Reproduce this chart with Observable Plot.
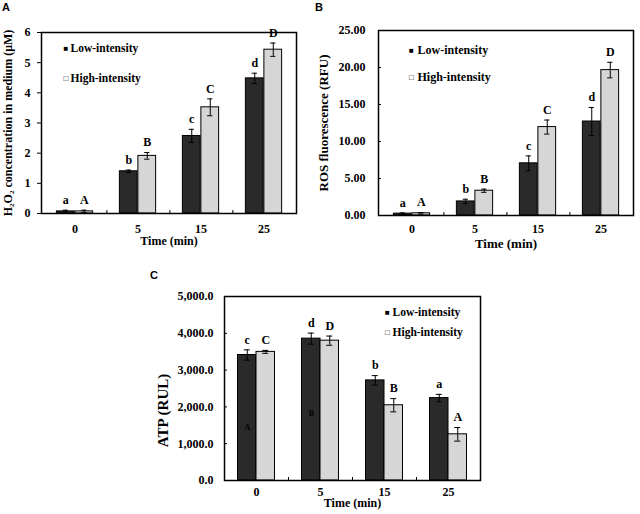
<!DOCTYPE html>
<html><head><meta charset="utf-8">
<script src="https://cdn.jsdelivr.net/npm/d3@7"></script>
<script src="https://cdn.jsdelivr.net/npm/@observablehq/plot@0.6"></script>
<style>
body{margin:0;background:#fff;}
#fig{position:relative;width:640px;height:514px;overflow:hidden;background:#fff;}
.panel{position:absolute;}
.panel text{font-family:"Liberation Serif","Times New Roman",serif;}
.plab{position:absolute;font-family:"Liberation Sans",Arial,sans-serif;font-weight:bold;font-size:11px;line-height:11px;}
</style></head><body>
<div id="fig"></div>
<script>
// ---- data ----
const times = ["0", "5", "15", "25"];
const seriesNames = ["Low-intensity", "High-intensity"];

// Panel A: H2O2 concentration (µM)
const h2o2Low = [0.07, 1.40, 2.57, 4.48];
const h2o2LowErr = [0.04, 0.04, 0.22, 0.17];
const h2o2High = [0.07, 1.91, 3.52, 5.43];
const h2o2HighErr = [0.04, 0.11, 0.28, 0.22];
const h2o2LowLetters = ["a", "b", "c", "d"];
const h2o2HighLetters = ["A", "B", "C", "D"];
const h2o2Ticks = [0, 1, 2, 3, 4, 5, 6];

// Panel B: ROS fluorescence (RFU)
const rosLow = [0.25, 1.90, 7.05, 12.70];
const rosLowErr = [0.10, 0.30, 1.00, 1.90];
const rosHigh = [0.30, 3.35, 11.95, 19.65];
const rosHighErr = [0.10, 0.22, 0.95, 1.05];
const rosLowLetters = ["a", "b", "c", "d"];
const rosHighLetters = ["A", "B", "C", "D"];
const rosTicks = [0, 5, 10, 15, 20, 25];

// Panel C: ATP (RUL)
const atpLow = [3410, 3855, 2720, 2240];
const atpLowErr = [140, 150, 130, 100];
const atpHigh = [3495, 3800, 2045, 1255];
const atpHighErr = [40, 125, 180, 185];
const atpLowLetters = ["c", "d", "b", "a"];
const atpHighLetters = ["C", "D", "B", "A"];
const atpTicks = [0, 1000, 2000, 3000, 4000, 5000];
// stray letters printed inside the dark bars of the original figure
const atpStrayTime = ["0", "5"];
const atpStrayValue = [1440, 1820];
const atpStrayText = ["A", "B"];

const dark = "#2a2a2a", light = "#d6d6d6";
const serif = "Liberation Serif";

function panel(c) {
  const rows = [];
  times.forEach((t, i) => {
    rows.push({t, s: "Low", v: c.low[i], e: c.lowErr[i], L: c.lowLetters[i]});
    rows.push({t, s: "High", v: c.high[i], e: c.highErr[i], L: c.highLetters[i]});
  });
  const m = c.m;
  const pw = c.W - m.left - m.right, ph = c.H - m.top - m.bottom;
  const bw = pw / times.length, barW = 18.5;
  const marks = [];
  for (const [s, off, fill] of [["Low", -1, dark], ["High", 1, light]]) {
    const R = rows.filter(d => d.s === s);
    marks.push(Plot.barY(R, {x: "t", y: "v", fill, stroke: "#000", strokeWidth: 1,
      insetLeft: off < 0 ? bw / 2 - barW : bw / 2, insetRight: off < 0 ? bw / 2 : bw / 2 - barW}));
  }
  for (const [s, off] of [["Low", -1], ["High", 1]]) {
    const R = rows.filter(d => d.s === s);
    const dx = off * barW / 2;
    marks.push(Plot.ruleX(R, {x: "t", y1: d => d.v - d.e, y2: d => d.v + d.e, dx, stroke: "#000", strokeWidth: 1}));
    marks.push(Plot.tickY(R, {x: "t", y: d => d.v + d.e, dx, insetLeft: bw / 2 - 3, insetRight: bw / 2 - 3, stroke: "#000", strokeWidth: 1}));
    marks.push(Plot.tickY(R, {x: "t", y: d => Math.max(0, d.v - d.e), dx, insetLeft: bw / 2 - 3, insetRight: bw / 2 - 3, stroke: "#000", strokeWidth: 1}));
    marks.push(Plot.text(R, {x: "t", y: d => d.v + d.e, text: "L", dx, dy: -10, fontSize: 12, fontWeight: "bold", fontFamily: serif, fill: "#000"}));
  }
  if (c.extra) marks.push(...c.extra);
  // axes
  marks.push(Plot.axisY({ticks: c.ticks, tickFormat: c.fmt, tickSize: c.yTickOut ? 4 : 0,
    tickPadding: c.yTickPad, label: null, fontSize: 12, fontFamily: serif, fontWeight: "bold"}));
  if (!c.yTickOut) marks.push(Plot.ruleY(c.ticks, {y: d => d, insetRight: pw - 3, stroke: "#000"}));
  marks.push(Plot.axisX({tickSize: 0, tickPadding: c.xTickPad, label: null, fontSize: 12, fontFamily: serif, fontWeight: "bold"}));
  marks.push(Plot.ruleX(times.slice(0, -1), {x: d => d, dx: bw / 2, insetTop: ph - 3, stroke: "#000"}));
  marks.push(Plot.frame({stroke: "#000", strokeWidth: 1.5}));
  // titles
  marks.push(Plot.text([c.yTitle], {text: d => d, frameAnchor: "left", rotate: -90, dx: c.yTitleDx, dy: c.yTitleDy || 0,
    textAnchor: "middle", lineAnchor: "middle", fontSize: c.yTitleSize, fontWeight: "bold", fontFamily: serif, fill: "#000"}));
  marks.push(Plot.text(["Time (min)"], {text: d => d, frameAnchor: "bottom", dy: c.xTitleDy,
    textAnchor: "middle", lineAnchor: "middle", fontSize: c.xTitleSize, fontWeight: "bold", fontFamily: serif, fill: "#000"}));
  // legend
  const glyphs = ["\u25A0", "\u25A1"];
  seriesNames.forEach((name, i) => {
    marks.push(Plot.text([glyphs[i]], {text: d => d, frameAnchor: "top-left", dx: c.lg.sq, dy: c.lg.y[i],
      textAnchor: "middle", lineAnchor: "middle", fontSize: 8, fill: "#000", fontFamily: "DejaVu Sans"}));
    marks.push(Plot.text([name], {text: d => d, frameAnchor: "top-left", dx: c.lg.tx, dy: c.lg.y[i],
      textAnchor: "start", lineAnchor: "middle", fontSize: c.lg.size, fontWeight: "bold", fontFamily: serif, fill: "#000"}));
  });
  const el = Plot.plot({
    width: c.W, height: c.H,
    marginTop: m.top, marginRight: m.right, marginBottom: m.bottom, marginLeft: m.left,
    style: {fontFamily: serif, fontWeight: "bold", fontSize: "12px", color: "#000", background: "transparent"},
    x: {domain: times, padding: 0, axis: null},
    y: {domain: c.domain, axis: null},
    marks
  });
  el.classList.add("panel");
  el.style.left = c.left + "px";
  el.style.top = c.top + "px";
  return el;
}

const fig = document.getElementById("fig");

fig.appendChild(panel({
  left: 0, top: 0, W: 310, H: 255, m: {top: 32, right: 14, bottom: 42, left: 41},
  low: h2o2Low, lowErr: h2o2LowErr, high: h2o2High, highErr: h2o2HighErr,
  lowLetters: h2o2LowLetters, highLetters: h2o2HighLetters,
  domain: [0, 6], ticks: h2o2Ticks, fmt: d3.format("d"), yTickOut: true, yTickPad: 7,
  xTickPad: 11, yTitle: "H\u2082O\u2082 concentration in medium (\u03BCM)", yTitleSize: 12, yTitleDx: -33,
  xTitleDy: 28, xTitleSize: 12,
  lg: {sq: 24.5, tx: 29, y: [16, 46], size: 11.5}
}));

fig.appendChild(panel({
  left: 300, top: 0, W: 340, H: 255, m: {top: 30, right: 7, bottom: 40, left: 78},
  low: rosLow, lowErr: rosLowErr, high: rosHigh, highErr: rosHighErr,
  lowLetters: rosLowLetters, highLetters: rosHighLetters,
  domain: [0, 25], ticks: rosTicks, fmt: d3.format(".2f"), yTickOut: false, yTickPad: 13,
  xTickPad: 9, yTitle: "ROS fluorescence (RFU)", yTitleSize: 13, yTitleDx: -55,
  xTitleDy: 28, xTitleSize: 13,
  lg: {sq: 33, tx: 39, y: [20, 47], size: 12}
}));

fig.appendChild(panel({
  left: 140, top: 260, W: 360, H: 254, m: {top: 36, right: 20, bottom: 34, left: 84},
  low: atpLow, lowErr: atpLowErr, high: atpHigh, highErr: atpHighErr,
  lowLetters: atpLowLetters, highLetters: atpHighLetters,
  domain: [0, 5000], ticks: atpTicks, fmt: d3.format(",.1f"), yTickOut: false, yTickPad: 11,
  xTickPad: 7, yTitle: "ATP (RUL)", yTitleSize: 15, yTitleDx: -61, yTitleDy: 22,
  xTitleDy: 23, xTitleSize: 12,
  lg: {sq: 163, tx: 168, y: [16, 36], size: 11.5},
  extra: [Plot.text(atpStrayTime.map((t, i) => ({t, v: atpStrayValue[i], L: atpStrayText[i]})),
    {x: "t", y: "v", text: "L", dx: -9, fontSize: 8, fontWeight: "bold", fontFamily: serif, fill: "#000"})]
}));

for (const [t, x, y] of [["A", 2, 2], ["B", 315, 2], ["C", 150, 270]]) {
  const d = document.createElement("div");
  d.className = "plab"; d.textContent = t;
  d.style.left = x + "px"; d.style.top = y + "px";
  fig.appendChild(d);
}
</script>
</body></html>
